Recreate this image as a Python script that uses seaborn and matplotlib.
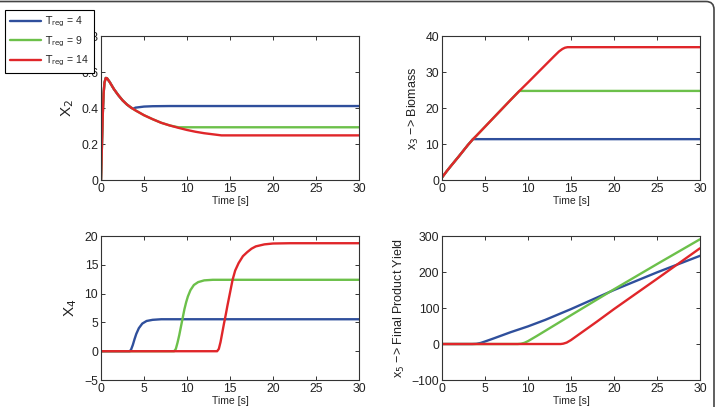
import numpy as np
import seaborn as sns
import matplotlib.pyplot as plt
from matplotlib.patches import FancyBboxPatch

# ---- data ----
labels = [r"$\mathrm{T}_{\mathrm{reg}}$ = 4", r"$\mathrm{T}_{\mathrm{reg}}$ = 9", r"$\mathrm{T}_{\mathrm{reg}}$ = 14"]
colors = ["#2f4f9c", "#6cc04a", "#e0262a"]

# x2: shared transient, then each run levels off
x2_t_common = [0, 0.1, 0.2, 0.3, 0.4, 0.55, 0.7, 1, 1.5, 2, 2.5, 3, 3.5]
x2_v_common = [0, 0.18, 0.36, 0.48, 0.54, 0.567, 0.565, 0.545, 0.505, 0.472, 0.443, 0.42, 0.402]
x2_t_blue = [3.75, 4, 5, 6, 8, 30]
x2_v_blue = [0.396, 0.402, 0.408, 0.41, 0.411, 0.411]
x2_t_green = [4, 5, 6, 7, 8, 9, 30]
x2_v_green = [0.387, 0.36, 0.338, 0.318, 0.303, 0.293, 0.293]
x2_t_red = [4, 5, 6, 7, 8, 9, 10, 11, 12, 13, 14, 30]
x2_v_red = [0.387, 0.36, 0.338, 0.318, 0.303, 0.29, 0.278, 0.268, 0.26, 0.254, 0.248, 0.248]

# x3: biomass
x3_t_blue = [0, 0.5, 1, 2, 3, 3.6, 30]
x3_v_blue = [0.7, 2.3, 3.8, 6.7, 9.7, 11.35, 11.35]
x3_t_green = [0, 0.5, 1, 2, 3, 3.6, 4, 5, 6, 7, 8, 9, 30]
x3_v_green = [0.7, 2.3, 3.8, 6.7, 9.7, 11.35, 12.3, 14.8, 17.3, 19.8, 22.3, 24.75, 24.75]
x3_t_red = [0, 0.5, 1, 2, 3, 3.6, 4, 5, 6, 7, 8, 9, 10, 11, 12, 13, 13.6, 14, 14.3, 14.6, 15, 30]
x3_v_red = [0.7, 2.3, 3.8, 6.7, 9.7, 11.35, 12.3, 14.8, 17.3, 19.8, 22.3, 24.75, 27.1, 29.5,
            31.9, 34.3, 35.7, 36.4, 36.75, 36.9, 36.9, 36.9]

# x4
x4_t_blue = [0, 3.35, 3.5, 3.7, 3.9, 4.1, 4.4, 4.8, 5.3, 6, 7, 30]
x4_v_blue = [0, 0, 0.3, 1.1, 2.1, 3.0, 4.0, 4.8, 5.25, 5.45, 5.55, 5.55]
x4_t_green = [0, 8.5, 8.7, 8.9, 9.1, 9.3, 9.5, 9.7, 9.9, 10.1, 10.4, 10.8, 11.3, 12, 13, 30]
x4_v_green = [0, 0, 0.4, 1.5, 2.8, 4.3, 5.8, 7.3, 8.5, 9.5, 10.6, 11.5, 12.0, 12.3, 12.4, 12.4]
x4_t_red = [0, 13.5, 13.7, 13.9, 14.1, 14.3, 14.5, 14.7, 14.9, 15.1, 15.3, 15.6, 16, 16.5,
            17, 17.5, 18, 19, 20, 22, 30]
x4_v_red = [0, 0, 0.4, 1.6, 3.2, 4.8, 6.3, 7.9, 9.4, 10.9, 12.4, 14.0, 15.3, 16.5,
            17.2, 17.8, 18.2, 18.55, 18.7, 18.75, 18.75]

# x5: final product yield
x5_t_blue = [0, 3.5, 4, 4.5, 5, 6, 8, 10, 12, 15, 20, 25, 30]
x5_v_blue = [0, 0, 0.5, 3, 7, 15.5, 33, 49, 67, 97, 150, 199, 245]
x5_t_green = [0, 8.8, 9.2, 9.6, 10, 11, 12, 15, 20, 25, 30]
x5_v_green = [0, 0, 0.8, 3.5, 8, 22, 36.5, 80, 152, 222, 291]
x5_t_red = [0, 13.8, 14.1, 14.5, 15, 16, 18, 20, 25, 30]
x5_v_red = [0, 0, 1, 4, 11, 28, 62, 97, 181, 266]

sns.set_style("ticks")
plt.rcParams["font.family"] = ["Liberation Sans", "DejaVu Sans"]
plt.rcParams["axes.edgecolor"] = "#333333"
plt.rcParams["axes.linewidth"] = 0.8

fig = plt.figure(figsize=(7.2, 4.07), dpi=100, facecolor="white")

w, h = 0.3583, 0.3538
ax1 = fig.add_axes([0.1403, 0.5577, w, h])
ax2 = fig.add_axes([0.6139, 0.5577, w, h])
ax3 = fig.add_axes([0.1403, 0.0663, w, h])
ax4 = fig.add_axes([0.6139, 0.0663, w, h])

panels = [
    (ax1, [(x2_t_common + x2_t_blue, x2_v_common + x2_v_blue),
           (x2_t_common + x2_t_green, x2_v_common + x2_v_green),
           (x2_t_common + x2_t_red, x2_v_common + x2_v_red)]),
    (ax2, [(x3_t_blue, x3_v_blue), (x3_t_green, x3_v_green), (x3_t_red, x3_v_red)]),
    (ax3, [(x4_t_blue, x4_v_blue), (x4_t_green, x4_v_green), (x4_t_red, x4_v_red)]),
    (ax4, [(x5_t_blue, x5_v_blue), (x5_t_green, x5_v_green), (x5_t_red, x5_v_red)]),
]

for ax, series in panels:
    for (t, v), c, lab in zip(series, colors, labels):
        sns.lineplot(x=t, y=v, color=c, lw=1.7, label=lab, ax=ax, sort=False)
    ax.legend_.remove()
    ax.set_xlim(0, 30)
    ax.set_xticks(range(0, 31, 5))
    ax.tick_params(direction="in", top=True, right=True, length=3, width=0.7,
                   labelsize=8.8, pad=2, colors="#333333", labelcolor="#222222")
    ax.set_xlabel("Time [s]", fontsize=7.5, labelpad=1, color="#222222")

ax1.set_ylim(0, 0.8)
ax1.set_yticks([0, 0.2, 0.4, 0.6, 0.8])
ax1.set_yticklabels(["0", "0.2", "0.4", "0.6", "0.8"])
ax1.set_ylabel(r"X$_2$", fontsize=11, labelpad=4, color="#222222")

ax2.set_ylim(0, 40)
ax2.set_yticks(range(0, 41, 10))
ax2.set_ylabel(r"x$_3$ −> Biomass", fontsize=9, labelpad=3, color="#222222")

ax3.set_ylim(-5, 20)
ax3.set_yticks(range(-5, 21, 5))
ax3.set_ylabel(r"X$_4$", fontsize=11, labelpad=4, color="#222222")

ax4.set_ylim(-100, 300)
ax4.set_yticks(range(-100, 301, 100))
ax4.set_ylabel(r"x$_5$ −> Final Product Yield", fontsize=9, labelpad=3, color="#222222")

handles, labs = ax1.get_legend_handles_labels()
leg = fig.legend(handles, labs, loc="upper left", bbox_to_anchor=(5 / 720, 1 - 10 / 407),
                 fontsize=7.5, frameon=True, fancybox=False, framealpha=1,
                 edgecolor="black", handlelength=3.0, handletextpad=0.4,
                 labelspacing=0.5, borderpad=0.45, borderaxespad=0)
leg.get_frame().set_linewidth(0.8)

# rounded outer frame of the original panel
frame = FancyBboxPatch((-0.1, -0.1), 7.24, 4.155,
                       boxstyle="round,pad=0,rounding_size=0.08",
                       transform=fig.dpi_scale_trans, fill=False,
                       edgecolor="#444444", lw=1.2)
fig.patches.append(frame)

fig.savefig("out.png", dpi=100, facecolor="white")
